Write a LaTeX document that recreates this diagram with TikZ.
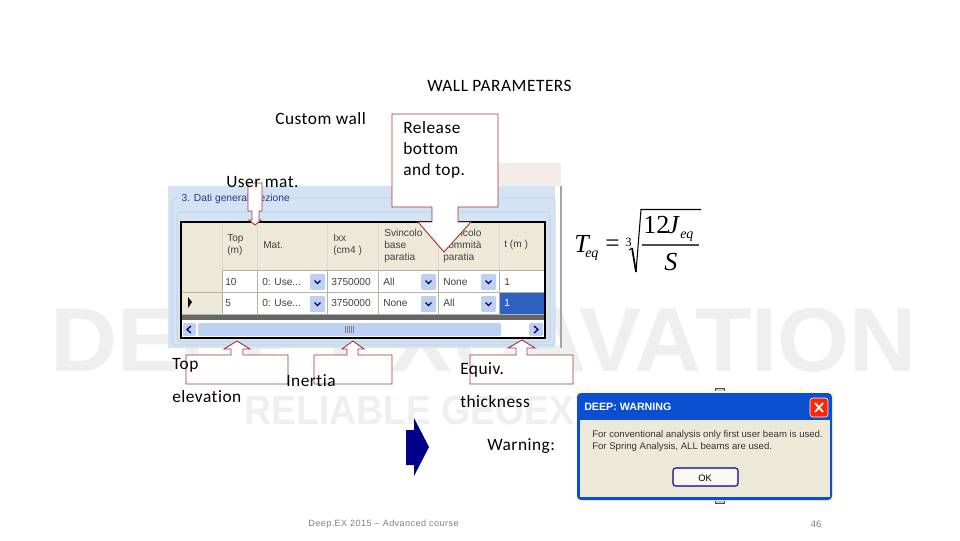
\documentclass[tikz,border=0pt]{standalone}
\usepackage{fontspec}
\setmainfont{Carlito}
\newfontfamily\lab[LetterSpace=3,Ligatures=NoCommon]{Carlito}
\newfontfamily\foot[LetterSpace=5]{Liberation Sans}
\newfontfamily\ui{Liberation Sans}
\newfontfamily\wm{Liberation Sans}
\newfontfamily\tms{Liberation Serif}
\definecolor{wmgray}{HTML}{EFEFEF}
\definecolor{wmpink}{HTML}{F4ECE8}
\definecolor{panelblue}{HTML}{D3E3F3}
\definecolor{headbeige}{HTML}{ECE9D8}
\definecolor{cred}{HTML}{A8323E}
\definecolor{gridc}{HTML}{B5B3A6}
\definecolor{dropb}{HTML}{BDD0F0}
\definecolor{seln}{HTML}{2F62C0}
\definecolor{scrollb}{HTML}{BCD0F4}
\definecolor{xpblue}{HTML}{0A4FD0}
\definecolor{txtg}{HTML}{404040}
\definecolor{navyc}{HTML}{00008B}
\definecolor{groupc}{HTML}{BCCDE0}
\definecolor{lav}{HTML}{C8C8F0}
\tikzset{
  x=0.75pt,y=-0.75pt,
  lbl/.style={font=\lab\fontsize{13}{15}\selectfont,anchor=west,inner sep=0pt,text=black},
  uicell/.style={font=\ui\fontsize{7.6}{9.2}\selectfont,anchor=west,inner sep=0pt,text=txtg,align=left},
  dlg/.style={font=\ui\fontsize{7.2}{9}\selectfont,anchor=west,inner sep=0pt,text=black!80},
  callout/.style={draw=cred,fill=white,line width=0.7pt},
  gridl/.style={draw=gridc,line width=0.6pt},
  mth/.style={font=\tms\itshape\fontsize{19.5}{20}\selectfont,anchor=base west,inner sep=0pt,text=black},
  sb/.style={font=\tms\itshape\fontsize{10.5}{11}\selectfont,anchor=base west,inner sep=0pt,text=black},
}
\newcommand{\dropbtn}[2]{\fill[dropb,rounded corners=1pt] (#1,#2) rectangle ++(15,16);
  \draw[blue!50!black,line width=0.9pt] (#1+4.5,#2+6.5) -- ++(3,3) -- ++(3,-3);}
\begin{document}
\begin{tikzpicture}
\useasboundingbox (0,0) rectangle (960,540);
\fill[white] (0,0) rectangle (960,540);
% watermark
\node[anchor=west,inner sep=0pt,text=wmgray,font=\wm\bfseries\fontsize{68}{68}\selectfont] (wma) at (50,340) {\scalebox{1.024}[1]{DEEP EXCAVATION}};
\node[anchor=west,inner sep=0pt,text=wmgray,font=\wm\bfseries\fontsize{30.5}{31}\selectfont] (wmb) at (244,410) {\scalebox{0.92}[1]{RELIABLE GEOEX}};
\fill[wmpink] (498,163) rectangle (561,186);
% panel
\fill[panelblue] (168,186) rectangle (555,348);
\draw[gray!70,line width=1pt] (561,186) -- (561,348);
\draw[groupc,rounded corners=3pt,line width=0.5pt] (172,198) rectangle (555,345);
\draw[groupc,rounded corners=3pt,line width=0.5pt] (177,212) rectangle (550,342);
\node[fill=panelblue,inner sep=1pt,anchor=west,font=\ui\fontsize{7.7}{9}\selectfont,text=black!45!blue!60!gray] (ptitle) at (180,199) {3. Dati generali sezione};
% table
\fill[headbeige] (181,222) rectangle (545,270);
\fill[white] (222,270) rectangle (545,314);
\fill[headbeige] (181,270) rectangle (222,314);
\fill[seln] (499,292) rectangle (545,314);
\fill[gray!80!black] (181,314) rectangle (545,320);
\fill[white] (181,320) rectangle (545,338);
\fill[scrollb,rounded corners=1pt] (198,323) rectangle (501,336);
\fill[scrollb,rounded corners=1pt] (183,323) rectangle (196,336);
\fill[scrollb,rounded corners=1pt] (529,323) rectangle (543,336);
\draw[blue!50!black,line width=1pt] (191,326) -- (187,329.5) -- (191,333);
\draw[blue!50!black,line width=1pt] (534,326) -- (538,329.5) -- (534,333);
\foreach \px in {345,347,349,351,353} \draw[gray,line width=0.3pt] (\px,326) -- (\px,333);
\foreach \cx in {222,257,327,378,438,499} {\draw[gridl,draw=gridc!50!white] (\cx,222) -- (\cx,270); \draw[gridl] (\cx,270) -- (\cx,314);}
\draw[gridl] (222,270) -- (545,270);
\draw[gridl] (181,292) -- (545,292);
\draw[gridl] (181,314) -- (545,314);
\draw[black,line width=1pt] (181,222) rectangle (545,338);
\fill[black] (188,297) -- (192,302) -- (188,308) -- cycle;
\node[uicell] (h1) at (227,245) {Top\\(m)};
\node[uicell] (h2) at (263,245) {Mat.};
\node[uicell] (h3) at (333,245) {Ixx\\(cm4 )};
\node[uicell] (h4) at (384,246) {Svincolo\\base\\paratia};
\node[uicell] (h5) at (443,246) {Svincolo\\sommità\\paratia};
\node[uicell] (h6) at (504,245) {t (m )};
\node[uicell] (a1) at (225,282) {10};
\node[uicell] (a2) at (262,282) {0: Use...};
\node[uicell] (a3) at (331,282) {3750000};
\node[uicell] (a4) at (383,282) {All};
\node[uicell] (a5) at (443,282) {None};
\node[uicell] (a6) at (504,282) {1};
\node[uicell] (b1) at (225,303) {5};
\node[uicell] (b2) at (262,303) {0: Use...};
\node[uicell] (b3) at (331,303) {3750000};
\node[uicell] (b4) at (383,303) {None};
\node[uicell] (b5) at (443,303) {All};
\node[uicell,text=white] (b6) at (504,303) {1};
\dropbtn{310}{274}\dropbtn{310}{296}\dropbtn{421}{274}\dropbtn{421}{296}\dropbtn{481}{274}\dropbtn{481}{296}
% callouts
\draw[callout] (248,183) -- (262,183) -- (262,211) -- (259,211) -- (259,220) -- (261,220) -- (255,225) -- (249,220) -- (252,220) -- (252,211) -- (248,211) -- cycle;
\draw[callout] (392,114) -- (498,114) -- (498,207) -- (458,207) -- (458,222) -- (471,222) -- (444,252) -- (418,222) -- (432,222) -- (432,207) -- (392,207) -- cycle;
\draw[callout] (186,355) -- (231,355) -- (231,349) -- (224,349) -- (237,341) -- (250,349) -- (243,349) -- (243,355) -- (288,355) -- (288,384) -- (186,384) -- cycle;
\draw[callout] (314,355) -- (347,355) -- (347,349) -- (342,349) -- (353,341) -- (364,349) -- (358,349) -- (358,355) -- (392,355) -- (392,384) -- (314,384) -- cycle;
\draw[callout] (470,355) -- (516,355) -- (516,348) -- (508,348) -- (522,340) -- (535,348) -- (527,348) -- (527,355) -- (573,355) -- (573,384) -- (470,384) -- cycle;
% labels
\node[lbl] (title) at (427,86) {WALL PARAMETERS};
\node[lbl] (custom) at (275,118.5) {Custom wall};
\node[lbl] (rel1) at (403,127.5) {Release};
\node[lbl] (rel2) at (403,148.5) {bottom};
\node[lbl] (rel3) at (403,170.5) {and top.};
\node[lbl] (user) at (226,182.5) {User mat.};
\node[lbl] (top1) at (172,365) {Top};
\node[lbl] (top2) at (172,396.5) {elevation};
\node[lbl] (iner) at (286,380.5) {Inertia};
\node[lbl] (eq1) at (460,369.5) {Equiv.};
\node[lbl] (eq2) at (460,401.5) {thickness};
\node[lbl] (warn) at (487,446.5) {Warning:};
% formula
\node[mth] (fT) at (574,252) {T};
\node[sb] (feq) at (585,257) {eq};
\node[inner sep=0pt,anchor=base west,font=\tms\fontsize{19}{19}\selectfont] (fe) at (605,251) {=};
\node[inner sep=0pt,anchor=base west,font=\tms\fontsize{9.5}{10}\selectfont] (f3) at (625,246) {3};
\draw[black,line width=0.7pt] (629,250) -- (632,248);
\draw[black,line width=1.3pt] (632,248) -- (636,272);
\draw[black,line width=0.8pt] (636,272) -- (641,209.5) -- (701,209.5);
\draw[black!70,line width=1.1pt] (642,245) -- (699,245);
\node[inner sep=0pt,anchor=base west,font=\tms\fontsize{19.5}{20}\selectfont] (f12) at (643,233) {12};
\node[mth] (fJ) at (667,233) {J};
\node[sb] (feq2) at (680,238) {eq};
\node[mth] (fS) at (664,270) {S};
% navy arrow
\fill[navyc] (406,430) -- (414,430) -- (414,418) -- (429,447) -- (414,476) -- (414,465) -- (406,465) -- cycle;
% dialog
\filldraw[fill=lav,draw=black!70,line width=0.6pt] (715,388) rectangle (724,503);
\fill[yellow!25!white] (576,391) rectangle (834,501);
\fill[xpblue,rounded corners=3pt] (577,393) rectangle (832,500);
\fill[headbeige] (580,420) rectangle (830,497);
\node[anchor=west,inner sep=0pt,text=white,font=\bfseries\ui\fontsize{8}{9}\selectfont] (dtitle) at (584,407) {DEEP: WARNING};
\fill[red!70!orange,rounded corners=2pt,draw=white] (810,398) rectangle (828,417);
\draw[white,line width=1.4pt] (815,403) -- (823,412) (823,403) -- (815,412);
\node[dlg] (d1) at (592,435) {For conventional analysis only first user beam is used.};
\node[dlg] (d2) at (592,447) {For Spring Analysis, ALL beams are used.};
\draw[blue!60!black,fill=headbeige!30!white,rounded corners=2pt,line width=0.8pt] (673,468) rectangle (738,486);
\node[inner sep=0pt,font=\ui\fontsize{7}{8}\selectfont] (ok) at (705,478) {OK};
% footer
\node[anchor=west,inner sep=0pt,text=gray,font=\foot\fontsize{6.8}{8}\selectfont] (ft) at (308,524) {Deep.EX 2015 – Advanced course};
\node[anchor=center,inner sep=0pt,text=gray,font=\ui\fontsize{7}{8}\selectfont] (pg) at (816,524) {46};
\end{tikzpicture}
\end{document}
